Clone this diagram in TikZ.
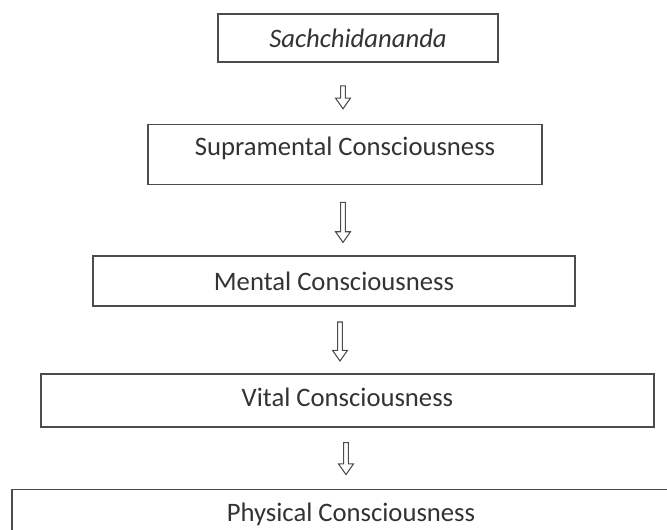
\documentclass[tikz,border=0pt]{standalone}
\usepackage{fontspec}
\setmainfont{Carlito}
\usetikzlibrary{positioning,calc}

\begin{document}
\begin{tikzpicture}[font=\fontsize{20pt}{23pt}\selectfont, box/.style={rectangle, draw=black!70, line width=1.2pt, align=center, text=black!80, inner sep=0pt}, hollow/.style={draw=black!70, line width=0.8pt, fill=white, to path={let \p1=(\tikztostart), \p2=(\tikztotarget) in (\x1-1.75pt,\y1) -- (\x1-1.75pt,\y2+8pt) -- (\x1-5.6pt,\y2+8pt) -- (\x1,\y2) -- (\x1+5.6pt,\y2+8pt) -- (\x1+1.75pt,\y2+8pt) -- (\x1+1.75pt,\y1) -- cycle}}]
\useasboundingbox (0,0) rectangle (500.25pt,-396.75pt);
\clip (0,0) rectangle (500.25pt,-396.75pt);
\node[box, minimum width=210pt, minimum height=36pt] (sach) at (268.5pt,-28.5pt) {\itshape Sachchidananda};
\node[box, minimum width=295.5pt, minimum height=45pt, text depth=12pt, below=45.75pt of sach, xshift=-9.75pt] (supra) {Supramental Consciousness};
\node[box, minimum width=361.5pt, minimum height=37.5pt, below=52.5pt of supra, xshift=-8.25pt] (mental) {Mental Consciousness};
\node[box, minimum width=459.75pt, minimum height=39.75pt, text depth=4.2pt, below=49.5pt of mental, xshift=10.1pt] (vital) {Vital Consciousness};
\node[box, minimum width=508.5pt, minimum height=42.75pt, text depth=8pt, below=45.75pt of vital, xshift=2.65pt] (phys) {Physical Consciousness};
% arrows between the levels
\draw[hollow] ([xshift=-11.25pt,yshift=-17.25pt]sach.south) to ([xshift=-11.25pt,yshift=11.25pt]supra.north);
\draw[hollow] ([xshift=-1.5pt,yshift=-12.75pt]supra.south) to ([xshift=-1.5pt,yshift=9.75pt]mental.north);
\draw[hollow] ([xshift=4.5pt,yshift=-11.25pt]mental.south) to ([xshift=4.5pt,yshift=9pt]vital.north);
\draw[hollow] ([xshift=-1.1pt,yshift=-11.25pt]vital.south) to ([xshift=-1.1pt,yshift=10.5pt]phys.north);
\end{tikzpicture}
\end{document}
